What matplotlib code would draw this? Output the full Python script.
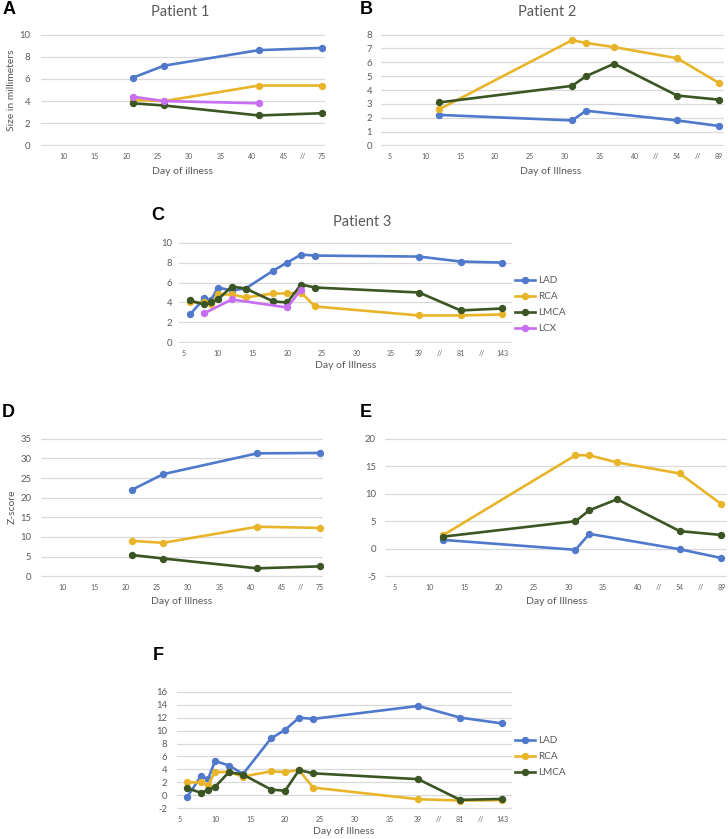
import matplotlib
matplotlib.use("Agg")
import matplotlib.pyplot as plt
from matplotlib.lines import Line2D
import numpy as np

plt.rcParams["font.family"] = ["Lato", "DejaVu Sans"]
plt.rcParams["axes.unicode_minus"] = False

nan = np.nan
W, H = 728, 839

BLUE = "#5079CC"
GOLD = "#E8B52A"
GREEN = "#3B5524"
PURPLE = "#C86EF2"
GRID = "#D9D9D9"
TXT = "#595959"

# ---- Patient 1 (size in mm and z-score) ----
p1_days = [21, 26, 41, 75]
p1_lad = [6.1, 7.2, 8.6, 8.8]
p1_rca = [4.1, 4.0, 5.4, 5.4]
p1_lmca = [3.8, 3.6, 2.7, 2.9]
p1_lcx = [4.4, 4.0, 3.8, nan]
p1_z_lad = [22.0, 26.0, 31.3, 31.4]
p1_z_rca = [9.0, 8.5, 12.6, 12.3]
p1_z_lmca = [5.4, 4.5, 2.0, 2.5]
p1_ticklabels = ["10", "15", "20", "25", "30", "35", "40", "45", "//", "75"]

# ---- Patient 2 ----
p2_days = [12, 31, 33, 37, 54, 89]
p2_lad = [2.2, 1.8, 2.5, nan, 1.8, 1.4]
p2_rca = [2.6, 7.6, 7.4, 7.1, 6.3, 4.5]
p2_lmca = [3.1, 4.3, 5.0, 5.9, 3.6, 3.3]
p2_z_lad = [1.6, -0.2, 2.7, nan, -0.1, -1.7]
p2_z_rca = [2.5, 17.0, 17.0, 15.7, 13.7, 8.1]
p2_z_lmca = [2.2, 5.0, 7.0, 9.0, 3.2, 2.5]
p2_ticklabels = ["5", "10", "15", "20", "25", "30", "35", "40", "//", "54", "//", "89"]

# ---- Patient 3 ----
p3_days = [6, 8, 9, 10, 12, 14, 18, 20, 22, 24, 39, 81, 143]
p3_lad = [2.8, 4.4, 4.2, 5.5, 5.2, 5.4, 7.2, 8.0, 8.8, 8.7, 8.6, 8.1, 8.0]
p3_rca = [4.0, 4.0, 3.8, 4.8, 4.8, 4.5, 4.9, 4.9, 5.0, 3.6, 2.7, 2.7, 2.8]
p3_lmca = [4.2, 3.8, 4.0, 4.3, 5.6, 5.4, 4.1, 4.0, 5.8, 5.5, 5.0, 3.2, 3.4]
p3_lcx = [nan, 2.9, nan, nan, 4.3, nan, nan, 3.5, 5.3, nan, nan, nan, nan]
p3_z_lad = [-0.3, 3.0, 2.5, 5.3, 4.6, 3.3, 8.8, 10.1, 12.0, 11.8, 13.8, 12.0, 11.1]
p3_z_rca = [2.0, 2.0, 1.6, 3.6, 3.6, 2.9, 3.7, 3.6, 3.9, 1.2, -0.6, -0.8, -0.75]
p3_z_lmca = [1.1, 0.4, 0.8, 1.3, 3.6, 3.2, 0.9, 0.7, 3.9, 3.4, 2.5, -0.7, -0.55]
p3_ticklabels = ["5", "10", "15", "20", "25", "30", "35", "39", "//", "81", "//", "143"]

# where the late days sit on the broken axis
p1_remap = {75: 51}
p2_remap = {54: 46, 89: 52}
p3_remap = {81: 45, 143: 51}
p1_ticks = [10, 15, 20, 25, 30, 35, 40, 45, 48, 51]
p2_ticks = [5, 10, 15, 20, 25, 30, 35, 40, 43, 46, 49, 52]
p3_ticks = [5, 10, 15, 20, 25, 30, 35, 39, 42, 45, 48, 51]

fig = plt.figure(figsize=(W / 100, H / 100), dpi=100)


def add_ax(x0, y0, x1, y1):
    return fig.add_axes([x0 / W, 1 - y1 / H, (x1 - x0) / W, (y1 - y0) / H])


def ftext(x, y, s, **kw):
    fig.text(x / W, 1 - y / H, s, ha=kw.pop("ha", "center"), va=kw.pop("va", "center"), **kw)


def style(ax, ylo, yhi, ystep, xlim, ticks, labels, ypad):
    pad = (yhi - ylo) * 0.006
    ax.set_ylim(ylo - pad, yhi + pad)
    ax.set_yticks(np.arange(ylo, yhi + ystep / 2, ystep))
    ax.set_xlim(*xlim)
    ax.set_xticks(ticks, labels)
    ax.grid(axis="y", color=GRID, lw=0.9)
    ax.set_axisbelow(True)
    for s in ax.spines.values():
        s.set_visible(False)
    ax.tick_params(length=0, colors=TXT)
    ax.tick_params(axis="x", labelsize=5, pad=5)
    ax.tick_params(axis="y", labelsize=6.8, pad=ypad)


def series(ax, days, vals, remap, color):
    d = np.array([remap.get(x, x) for x in days], dtype=float)
    v = np.array(vals, dtype=float)
    ok = ~np.isnan(v)
    ax.plot(d[ok], v[ok], color=color, lw=1.9, marker="o", ms=4.3, solid_capstyle="round")


# A
ax = add_ax(41, 34, 325, 146)
style(ax, 0, 10, 2, (6.5, 51.5), p1_ticks, p1_ticklabels, 8)
for vals, c in [(p1_lad, BLUE), (p1_rca, GOLD), (p1_lmca, GREEN), (p1_lcx, PURPLE)]:
    series(ax, p1_days, vals, p1_remap, c)
ftext(180, 12, "Patient 1", fontsize=10.5, color=TXT)
ftext(12, 90, "Size in millimeters", fontsize=7.5, color=TXT, rotation=90)
ftext(182, 171, "Day of illness", fontsize=7.5, color=TXT)

# B
ax = add_ax(381, 34, 724, 146)
style(ax, 0, 8, 1, (3.7, 52.7), p2_ticks, p2_ticklabels, 6.5)
for vals, c in [(p2_lad, BLUE), (p2_rca, GOLD), (p2_lmca, GREEN)]:
    series(ax, p2_days, vals, p2_remap, c)
ftext(547, 12, "Patient 2", fontsize=10.5, color=TXT)
ftext(551, 172, "Day of Illness", fontsize=7.5, color=TXT)

# C
ax = add_ax(179, 242, 512, 343)
style(ax, 0, 10, 2, (4.4, 52.4), p3_ticks, p3_ticklabels, 5)
for vals, c in [(p3_lad, BLUE), (p3_rca, GOLD), (p3_lmca, GREEN), (p3_lcx, PURPLE)]:
    series(ax, p3_days, vals, p3_remap, c)
ftext(362, 222, "Patient 3", fontsize=10.5, color=TXT)
ftext(346, 365, "Day of Illness", fontsize=7.5, color=TXT)

# D
ax = add_ax(41, 438, 323, 577)
style(ax, 0, 35, 5, (6.5, 51.5), p1_ticks, p1_ticklabels, 7)
for vals, c in [(p1_z_lad, BLUE), (p1_z_rca, GOLD), (p1_z_lmca, GREEN)]:
    series(ax, p1_days, vals, p1_remap, c)
ftext(12, 507, "Z-score", fontsize=7.5, color=TXT, rotation=90)
ftext(182, 601, "Day of Illness", fontsize=7.5, color=TXT)

# E
ax = add_ax(385, 438, 727, 577)
style(ax, -5, 20, 5, (3.6, 52.8), p2_ticks, p2_ticklabels, 6.5)
for vals, c in [(p2_z_lad, BLUE), (p2_z_rca, GOLD), (p2_z_lmca, GREEN)]:
    series(ax, p2_days, vals, p2_remap, c)
ftext(557, 602, "Day of Illness", fontsize=7.5, color=TXT)

# F
ax = add_ax(177, 691, 512, 809)
style(ax, -2, 16, 2, (4.57, 52.4), p3_ticks, p3_ticklabels, 7)
for vals, c in [(p3_z_lad, BLUE), (p3_z_rca, GOLD), (p3_z_lmca, GREEN)]:
    series(ax, p3_days, vals, p3_remap, c)
ftext(344, 832, "Day of Illness", fontsize=7.5, color=TXT)

# legends
names = ["LAD", "RCA", "LMCA", "LCX"]
cols = [BLUE, GOLD, GREEN, PURPLE]
handles = [Line2D([], [], color=c, lw=1.9, marker="o", ms=4.3) for c in cols]
for n_items, top in [(4, 276), (3, 736)]:
    fig.legend(handles[:n_items], names[:n_items], loc="upper left",
               bbox_to_anchor=(515 / W, 1 - top / H), frameon=False,
               fontsize=7.2, labelcolor=TXT, handlelength=2.0, handletextpad=0.3,
               labelspacing=0.7, borderpad=0, borderaxespad=0)

# panel letters
for letter, x, y in [("A", 3, 9), ("B", 360, 9), ("C", 151, 216),
                     ("D", 2, 413), ("E", 360, 413), ("F", 153, 655)]:
    ftext(x, y, letter, fontsize=13, fontweight="bold", ha="left",
          family=["Liberation Sans", "DejaVu Sans"], color="black")

fig.savefig("out.png", dpi=100)
